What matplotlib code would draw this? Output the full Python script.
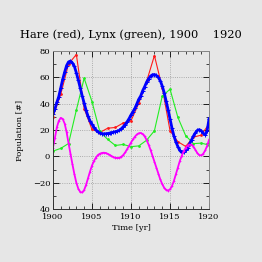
import numpy as np
import matplotlib
matplotlib.use("Agg")
import matplotlib.pyplot as plt
from matplotlib.ticker import MultipleLocator, FixedLocator, FixedFormatter

# --- datos anuales (miles) ---
years = list(range(1900, 1921))
hare = [30.0, 47.2, 70.2, 77.4, 36.3, 20.6, 18.1, 21.4, 22.0, 25.4, 27.1,
        40.3, 57.0, 76.6, 52.3, 19.5, 11.2, 7.6, 14.6, 16.2, 24.7]
lynx = [4.0, 6.1, 9.8, 35.2, 59.4, 41.7, 19.0, 13.0, 8.3, 9.1, 7.4,
        8.0, 12.3, 19.5, 45.7, 51.1, 29.7, 15.8, 9.7, 10.1, 8.6]

# --- curva ajustada (azul) y su derivada (magenta), cada 0.25 años ---
t_fit = [1900 + 0.25 * i for i in range(81)]
hare_fit = [32, 36, 41, 45.5, 52, 58.5, 64, 69, 71.8, 72.4, 71, 68.4, 63.5,
            58, 52, 46, 40.5, 35, 30.5, 27, 24.5, 22, 20.2, 18.7, 17.8, 17.3,
            17.1, 17.2, 17.4, 17.7, 18.0, 18.4, 18.8, 19.2, 19.8, 21, 22.5,
            24.2, 26.3, 28.7, 31.5, 34, 36.5, 40, 43.5, 46, 50, 53, 56.5, 59,
            61, 62, 62.2, 61.5, 60, 57.5, 53.5, 48.5, 42, 35.5, 28.5, 21.5,
            15.5, 11, 7.5, 4.5, 3, 3.2, 4.5, 6.5, 9.5, 12.5, 15.5, 18, 19.8,
            20.3, 19.5, 17.5, 16.5, 19.5, 28.7]
dhare = [6.5, 14, 22, 27, 29.3, 28.5, 25, 18.5, 10, 2, -6, -13.5, -20, -24.5,
         -27, -27.4, -25.5, -21.5, -16.5, -11.5, -7, -3.5, -1, 1, 2, 2.6, 2.8,
         2.6, 2.0, 1.2, 0.3, -0.5, -1, -1.2, -1.1, -0.3, 1, 3, 5.5, 8, 10.5,
         13, 15, 16.7, 17.6, 17.8, 17, 15.2, 12.5, 9, 5, 0.5, -4, -8.5, -13,
         -17.5, -21, -23.8, -25.4, -25.9, -25, -22.5, -18.5, -13.5, -8.5,
         -3.5, 0.5, 4, 6.5, 8.2, 9, 8.9, 7.5, 5, 2.5, 1, 0.8, 2, 4.5, 8, 12.7]

y_ticks = [-40, -20, 0, 20, 40, 60, 80]
y_labels = ["40", "\u221220", "0", "20", "40", "60", "80"]

bg = "#e6e6e6"
plt.rcParams["font.family"] = "DejaVu Serif"
plt.rcParams["font.size"] = 6

fig = plt.figure(figsize=(2.62, 2.62), dpi=100, facecolor=bg)
ax = fig.add_axes([0.202, 0.202, 0.596, 0.603], facecolor=bg)

ax.plot(years, hare, color="#ff1a1a", lw=0.8, marker="o", ms=1.0)
ax.plot(years, lynx, color="#22ee22", lw=0.8, marker="o", ms=1.0)
ax.plot(t_fit, hare_fit, color="#0000ff", lw=2.0, marker="+", ms=2.5, mew=0.7)
ax.plot(t_fit, dhare, color="#ff00ff", lw=1.3, marker="+", ms=2.0, mew=0.5)

ax.set_xlim(1900, 1920)
ax.set_ylim(-40, 80)
ax.xaxis.set_major_locator(MultipleLocator(5))
ax.xaxis.set_minor_locator(MultipleLocator(1))
ax.yaxis.set_major_locator(FixedLocator(y_ticks))
ax.yaxis.set_major_formatter(FixedFormatter(y_labels))
ax.yaxis.set_minor_locator(MultipleLocator(10))
ax.tick_params(which="both", direction="in", top=True, right=True)
ax.tick_params(axis="x", pad=3)
ax.tick_params(axis="y", pad=2)
ax.tick_params(which="major", length=4, width=0.6)
ax.tick_params(which="minor", length=2, width=0.5)
ax.grid(True, which="major", color="#999999", ls=":", lw=0.6)

for s in ["top", "right"]:
    ax.spines[s].set_color("#888888")
for s in ["left", "bottom"]:
    ax.spines[s].set_color("#333333")
for s in ax.spines.values():
    s.set_linewidth(0.7)

ax.set_xlabel("Time [yr]", labelpad=2)
ax.set_ylabel("Population [#]", labelpad=6)
fig.text(0.5, 0.866, "Hare (red), Lynx (green), 1900    1920",
         ha="center", va="center", fontsize=8.2)

fig.savefig("out.png", dpi=100, facecolor=bg)
